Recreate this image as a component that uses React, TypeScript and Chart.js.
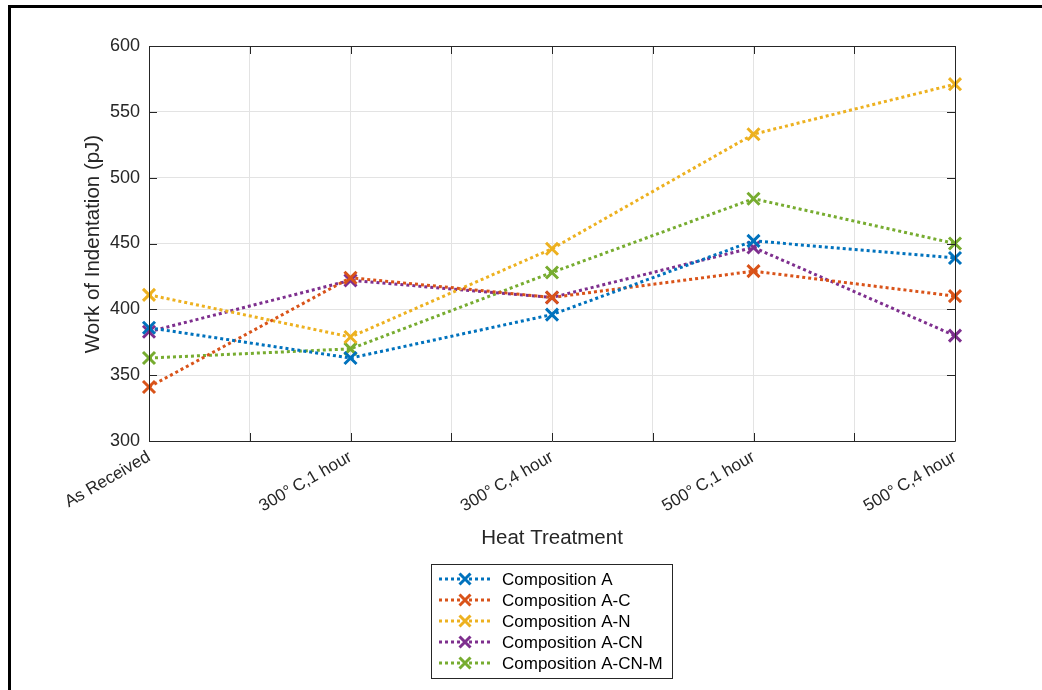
import React, { useEffect, useRef } from "react";
import { Chart, registerables } from "chart.js";

Chart.register(...registerables);

const categories = ["As Received", "300°\u2009C,1 hour", "300°\u2009C,4 hour", "500°\u2009C,1 hour", "500°\u2009C,4 hour"];
const seriesNames = ["Composition A", "Composition A-C", "Composition A-N", "Composition A-CN", "Composition A-CN-M"];
const compA = [386, 363, 396, 452, 439];
const compAC = [341, 424, 409, 429, 410];
const compAN = [411, 379, 446, 533, 571];
const compACN = [383, 422, 409, 447, 380];
const compACNM = [363, 370, 428, 484, 450];
const colors = ["#0072BD", "#D95319", "#EDB120", "#7E2F8E", "#77AC30"];
const yTicks = [300, 350, 400, 450, 500, 550, 600];

const FONT = "'Liberation Sans', Arial, Helvetica, sans-serif";
const AX = "#262626";

const decorPlugin = {
  id: "decor",
  afterDraw(chart: any) {
    const ctx = chart.ctx;
    const { left, right, top, bottom } = chart.chartArea;
    const xs = chart.scales.x;
    const ys = chart.scales.y;
    ctx.save();
    ctx.strokeStyle = AX;
    ctx.lineWidth = 1;
    ctx.beginPath();
    for (let v = 1; v <= 5.001; v += 0.5) {
      const px = Math.round(xs.getPixelForValue(v)) + 0.5;
      ctx.moveTo(px, bottom);
      ctx.lineTo(px, bottom - 8);
      ctx.moveTo(px, top);
      ctx.lineTo(px, top + 8);
    }
    for (const v of yTicks) {
      const py = Math.round(ys.getPixelForValue(v)) + 0.5;
      ctx.moveTo(left, py);
      ctx.lineTo(left + 8, py);
      ctx.moveTo(right, py);
      ctx.lineTo(right - 8, py);
    }
    ctx.stroke();
    ctx.strokeStyle = AX;
    ctx.beginPath();
    ctx.rect(Math.round(left) + 0.5, Math.round(top) + 0.5, Math.round(right - left), Math.round(bottom - top));
    ctx.stroke();

    ctx.fillStyle = AX;
    ctx.font = `20.5px ${FONT}`;
    ctx.textAlign = "center";
    ctx.textBaseline = "middle";
    ctx.fillText("Heat Treatment", 552, 538);
    ctx.save();
    ctx.translate(93, 244);
    ctx.rotate(-Math.PI / 2);
    ctx.fillText("Work of Indentation (pJ)", 0, 0);
    ctx.restore();

    const bx = 431.5, by = 564.5, bw = 241, bh = 114;
    ctx.fillStyle = "#ffffff";
    ctx.fillRect(bx, by, bw, bh);
    ctx.strokeStyle = AX;
    ctx.lineWidth = 1;
    ctx.strokeRect(bx, by, bw, bh);
    const rows = [579, 600, 621, 642, 663];
    chart.data.datasets.forEach((ds: any, i: number) => {
      const y = rows[i];
      ctx.strokeStyle = ds.borderColor;
      ctx.lineWidth = 3;
      ctx.setLineDash([3, 3]);
      ctx.beginPath();
      ctx.moveTo(439, y);
      ctx.lineTo(492, y);
      ctx.stroke();
      ctx.setLineDash([]);
      const r = 5.5;
      ctx.lineWidth = 3;
      ctx.beginPath();
      ctx.moveTo(465 - r, y - r);
      ctx.lineTo(465 + r, y + r);
      ctx.moveTo(465 - r, y + r);
      ctx.lineTo(465 + r, y - r);
      ctx.stroke();
      ctx.fillStyle = "#000000";
      ctx.font = `17px ${FONT}`;
      ctx.textAlign = "left";
      ctx.textBaseline = "middle";
      ctx.fillText(ds.label, 502, y + 1);
    });
    ctx.restore();
  },
};

export default function App() {
  const ref = useRef<HTMLCanvasElement | null>(null);
  useEffect(() => {
    document.body.style.margin = "0";
    const all = [compA, compAC, compAN, compACN, compACNM];
    const chart = new Chart(ref.current as HTMLCanvasElement, {
      type: "line",
      data: {
        datasets: all.map((vals, i) => ({
          label: seriesNames[i],
          data: vals.map((v, j) => ({ x: j + 1, y: v })),
          borderColor: colors[i],
          backgroundColor: colors[i],
          borderWidth: 3,
          borderDash: [3, 3],
          pointStyle: "crossRot",
          pointRadius: 8.5,
          pointBorderWidth: 3,
          pointHoverRadius: 8.5,
          fill: false,
          tension: 0,
          clip: false,
        })),
      },
      options: {
        responsive: false,
        animation: false,
        devicePixelRatio: 1,
        layout: { padding: { top: 46, right: 87, left: 0, bottom: 0 } },
        plugins: { legend: { display: false }, tooltip: { enabled: false } },
        scales: {
          x: {
            type: "linear",
            min: 1,
            max: 5,
            afterFit(scale: any) {
              scale.height = 249;
            },
            afterBuildTicks(scale: any) {
              const t = [];
              for (let v = 1; v <= 5; v += 0.5) t.push({ value: v });
              scale.ticks = t;
            },
            ticks: {
              autoSkip: false,
              minRotation: 30,
              maxRotation: 30,
              padding: 6,
              color: AX,
              font: { family: FONT, size: 17 },
              callback: (v: any) => (Number.isInteger(v) ? categories[v - 1] : ""),
            },
            grid: { color: "#e3e3e3", drawTicks: false },
            border: { display: false },
          },
          y: {
            min: 300,
            max: 600,
            afterFit(scale: any) {
              scale.width = 149;
            },
            afterBuildTicks(scale: any) {
              scale.ticks = yTicks.map((v) => ({ value: v }));
            },
            ticks: {
              padding: 9,
              color: AX,
              font: { family: FONT, size: 18 },
            },
            grid: { color: "#e3e3e3", drawTicks: false },
            border: { display: false },
          },
        },
      },
      plugins: [decorPlugin],
    } as any);
    return () => chart.destroy();
  }, []);
  return (
    <div style={{ position: "fixed", left: 0, top: 0, width: 1042, height: 690, background: "#fff" }}>
      <canvas ref={ref} width={1042} height={690} style={{ width: 1042, height: 690, display: "block" }} />
      <div style={{ position: "absolute", left: 8, top: 5, width: 1034, height: 685, borderLeft: "3px solid #000", borderTop: "3px solid #000", boxSizing: "border-box" }} />
    </div>
  );
}
